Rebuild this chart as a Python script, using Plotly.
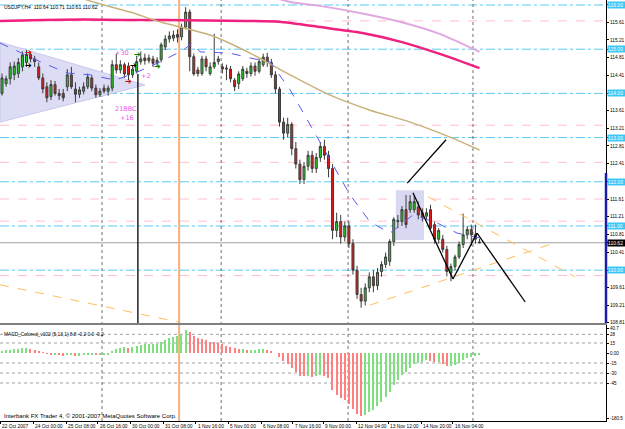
import plotly.graph_objects as go

# ---------------- data ----------------
bars = list(range(118))
opens = [114.00,114.22,114.33,114.42,114.45,114.60,114.70,114.88,114.78,114.60,
         114.35,114.15,113.93,114.20,114.00,114.00,114.15,114.42,114.10,113.98,
         114.05,114.15,114.35,114.12,113.97,114.12,114.05,114.12,114.65,114.53,
         114.65,114.62,114.42,114.50,114.72,114.80,114.74,114.78,114.68,114.76,
         115.05,115.23,115.25,115.33,115.28,115.50,115.84,114.83,114.53,114.45,
         114.78,114.45,114.60,114.72,114.60,114.55,114.55,114.30,114.22,114.33,
         114.50,114.45,114.62,114.50,114.65,114.82,114.70,114.42,114.10,113.35,
         113.10,113.30,112.75,112.40,112.05,112.35,112.60,112.30,112.55,112.80,
         112.60,112.30,110.90,111.10,110.75,111.00,110.60,110.00,109.45,109.30,
         109.60,109.85,109.65,109.97,110.13,110.20,110.65,111.10,111.10,111.37,
         111.37,111.37,111.43,111.30,111.22,111.37,111.03,110.70,110.70,110.47,
         109.93,110.08,110.30,110.58,110.80,110.92,110.80,110.64]
highs = [114.45,114.40,114.70,114.72,114.80,114.95,114.98,114.95,114.85,114.70,
         114.45,114.25,114.30,114.28,114.10,114.10,114.55,114.60,114.25,114.15,
         114.25,114.45,114.40,114.20,114.12,114.20,114.18,114.75,114.90,114.75,
         114.70,114.70,114.62,114.85,114.95,114.90,114.88,114.85,114.82,115.15,
         115.32,115.40,115.42,115.45,115.58,115.95,115.90,114.90,114.60,114.85,
         114.85,114.70,115.35,114.85,114.68,114.65,114.62,114.35,114.50,114.62,
         114.58,114.70,114.70,114.80,114.90,114.92,114.78,114.50,114.15,113.45,
         113.45,113.35,112.90,112.50,112.45,112.70,112.70,112.65,112.90,112.95,
         112.70,112.40,111.30,111.25,111.10,111.10,110.70,110.10,109.60,109.70,
         109.95,110.00,110.05,110.20,110.40,110.70,111.20,111.25,111.45,111.70,
         111.70,111.68,111.55,111.40,111.40,111.48,111.10,110.95,110.80,110.55,
         110.15,110.35,110.65,111.28,111.00,111.03,111.03,110.71]
lows = [113.95,114.15,114.20,114.30,114.35,114.50,114.60,114.70,114.60,114.30,
        114.00,113.80,113.85,113.95,113.85,113.82,114.05,114.10,113.80,113.90,
        113.98,114.10,114.05,113.90,113.92,114.00,113.95,114.05,114.45,114.45,
        114.35,114.30,114.35,114.45,114.65,114.65,114.68,114.60,114.60,114.70,
        114.98,115.15,115.18,115.15,115.20,115.45,114.50,114.40,114.38,114.40,
        114.50,114.40,114.55,114.65,114.45,114.30,114.25,114.05,114.10,114.28,
        114.35,114.38,114.40,114.45,114.60,114.60,114.35,114.00,113.25,112.95,
        113.00,112.60,112.30,111.95,111.95,112.25,112.20,112.20,112.45,112.50,
        112.10,110.70,110.75,110.60,110.65,110.50,109.90,109.35,109.15,109.20,
        109.50,109.50,109.55,109.85,110.05,110.10,110.55,110.95,111.00,110.95,
        111.30,111.30,111.15,111.10,111.15,110.90,110.60,110.60,110.40,109.86,
        109.75,110.00,110.25,110.50,110.70,110.55,110.60,110.61]
closes = [114.35,114.33,114.60,114.62,114.70,114.87,114.88,114.78,114.72,114.35,
          114.10,113.90,114.20,114.00,113.95,113.90,114.42,114.15,113.98,114.08,
          114.15,114.37,114.12,113.97,114.05,114.05,114.12,114.65,114.53,114.65,
          114.44,114.42,114.55,114.72,114.78,114.74,114.80,114.68,114.75,115.10,
          115.23,115.30,115.32,115.27,115.50,115.84,114.83,114.44,114.45,114.78,
          114.60,114.60,114.70,114.78,114.55,114.57,114.33,114.15,114.44,114.55,
          114.45,114.62,114.50,114.72,114.82,114.70,114.42,114.10,113.35,113.10,
          113.30,112.75,112.40,112.05,112.35,112.60,112.30,112.55,112.80,112.60,
          112.30,110.90,111.10,110.75,111.00,110.60,110.00,109.45,109.30,109.60,
          109.85,109.65,109.95,110.13,110.30,110.65,111.15,111.12,111.37,111.03,
          111.55,111.55,111.25,111.20,111.30,110.95,110.70,110.90,110.47,109.97,
          110.08,110.30,110.58,110.80,110.92,110.80,110.70,110.62]

macd_hist = [3,4,5,6,6,7,7,6,5,3,
             1,-1,-2,-2,-3,-4,-3,-3,-4,-4,
             -3,-2,-2,-3,-3,-2,-2,3,6,8,
             9,8,9,11,12,13,13,13,13,16,
             19,22,24,25,28,34,31,26,22,21,
             19,17,16,15,13,11,9,7,6,6,
             5,5,5,6,6,5,3,0,-6,-12,
             -16,-22,-28,-34,-35,-34,-36,-35,-33,-34,
             -38,-55,-63,-68,-71,-76,-84,-91,-95,-93,
             -89,-85,-79,-73,-66,-58,-48,-40,-33,-28,
             -22,-17,-15,-13,-11,-12,-14,-14,-16,-20,
             -20,-18,-15,-11,-8,-6,-4,-2]

ma_magenta_bars = [-0.5, 10, 20, 30, 40, 50, 60, 68, 78, 88, 98, 108, 117]
ma_magenta_vals = [115.64, 115.66, 115.67, 115.66, 115.66, 115.65, 115.64, 115.62, 115.50, 115.37, 115.16, 114.87, 114.57]
ma_plum_bars = [60, 70.6, 77.9, 87.7, 97.5, 107.4, 117]
ma_plum_vals = [116.35, 116.07, 115.98, 115.82, 115.62, 115.34, 114.94]
ma_tan_bars = [18, 22.3, 31.4, 38.7, 51, 60.8, 70.6, 80.4, 90.2, 100, 109.8, 117]
ma_tan_vals = [116.20, 116.07, 115.84, 115.62, 115.32, 114.91, 114.42, 113.96, 113.62, 113.35, 113.01, 112.72]
ma_blue_bars = [-0.5, 10, 16, 21.6, 27.7, 32.6, 38.7, 44.4, 46.6, 48.5, 55.9, 60.8, 65.7, 70.6, 75.5, 80.4, 85.3, 90.2, 95.1, 100.7, 106.6, 111.5, 117]
ma_blue_vals = [115.14, 114.69, 114.46, 114.42, 114.30, 114.46, 114.71, 114.98, 115.14, 114.94, 114.91, 114.80, 114.71, 114.08, 113.29, 112.49, 111.70, 111.09, 110.84, 111.25, 111.07, 110.84, 110.73]

# drawn objects (bar index, price)
triangle_bars = [-0.5, -0.5, 35.0]
triangle_prices = [115.16, 113.35, 114.19]
box_bars = [96.5, 103.4]
box_prices = [110.68, 111.81]
zigzag_bars = [100.7, 110.5, 116.4, 128.2]
zigzag_prices = [111.75, 109.80, 110.84, 109.28]
upline_bars = [99.3, 108.8]
upline_prices = [111.97, 112.95]
orange_line_bars = [[104.4, 140.4], [90.2, 135.5], [-0.5, 43.1]]
orange_line_prices = [[111.66, 109.85], [109.21, 110.62], [109.67, 108.83]]
week_separators = [24.5, 53.7, 84.8, 115.4]
orange_vline = 43.4
black_vline_bar = 33.3
black_vline_top = 114.44

price_tick_vals = [108.81, 109.21, 109.61, 110.41, 110.81, 111.21, 111.61, 112.41,
                   112.81, 113.21, 113.61, 114.41, 114.81, 115.21, 115.61]
round_levels = [110.0, 111.0, 112.0, 113.0, 114.0, 115.0, 116.0]
pink_levels = [115.64, 113.28, 112.44, 111.61, 111.11, 109.88]
last_price = 110.62
macd_tick_vals = [37.5, 28, 15, 0, -15, -30, -45, -97.5]
macd_tick_text = ['40.7', '28', '15', '0.00', '-15', '-30', '-45', '-180.5']
macd_levels = [28, 15, -15, -30, -45]

date_pos = [-0.49, 7.6, 15.7, 23.5, 31.4, 39.5, 47.5, 55.4, 63.5, 71.3, 78.7, 86.8, 94.6, 102.7, 110.5]
date_labels = ['22 Oct 2007', '24 Oct 00:00', '25 Oct 08:00', '26 Oct 16:00', '30 Oct 00:00',
               '31 Oct 08:00', '1 Nov 16:00', '5 Nov 00:00', '6 Nov 08:00', '7 Nov 16:00',
               '9 Nov 00:00', '12 Nov 04:00', '13 Nov 12:00', '14 Nov 20:00', '16 Nov 04:00']

# text markers on chart: (bar, price, text, color, size)
chart_marks = [
    (6.6, 114.92, '➔', '#e00000', 8),
    (6.6, 114.62, '➔', '#000000', 8),
    (33.3, 114.87, '➔', '#008000', 8),
    (38.0, 114.60, '➔', '#008000', 8),
    (32.3, 114.64, '➔', '#000000', 8),
    (31.0, 114.28, '➔', '#e00000', 8),
    (29.4, 114.92, '+30', '#ee55ee', 6.5),
    (35.2, 114.40, '+2', '#ee55ee', 6.5),
    (30.3, 113.64, '21BBC', '#ee55ee', 6.5),
    (30.6, 113.44, '+16', '#ee55ee', 6.5),
]

FONT = 'Liberation Sans'

# ---------------- figure ----------------
fig = go.Figure()

fig.add_trace(go.Candlestick(
    x=bars, open=opens, high=highs, low=lows, close=closes,
    increasing=dict(line=dict(color='#3c3c3c', width=1), fillcolor='#22d422'),
    decreasing=dict(line=dict(color='#3c3c3c', width=1), fillcolor='#e01a1a'),
    whiskerwidth=0, xaxis='x', yaxis='y', showlegend=False, hoverinfo='skip'))

fig.add_trace(go.Scatter(x=ma_plum_bars, y=ma_plum_vals, mode='lines',
                         line=dict(color='#e0a8e0', width=2, shape='spline', smoothing=0.6),
                         xaxis='x', yaxis='y', showlegend=False, hoverinfo='skip'))
fig.add_trace(go.Scatter(x=ma_magenta_bars, y=ma_magenta_vals, mode='lines',
                         line=dict(color='#f0207f', width=2.5, shape='spline', smoothing=0.6),
                         xaxis='x', yaxis='y', showlegend=False, hoverinfo='skip'))
fig.add_trace(go.Scatter(x=ma_tan_bars, y=ma_tan_vals, mode='lines',
                         line=dict(color='#c8b27a', width=1.5, shape='spline', smoothing=0.6),
                         xaxis='x', yaxis='y', showlegend=False, hoverinfo='skip'))
fig.add_trace(go.Scatter(x=ma_blue_bars, y=ma_blue_vals, mode='lines',
                         line=dict(color='#5a5af0', width=1, dash='dash'),
                         xaxis='x', yaxis='y', showlegend=False, hoverinfo='skip'))

# MACD histogram, coloured by direction
macd_colors = []
for k, v in enumerate(macd_hist):
    prev = macd_hist[k - 1] if k > 0 else v
    macd_colors.append('#7fe07f' if v >= prev else '#ff8080')
fig.add_trace(go.Bar(x=bars, y=macd_hist, marker=dict(color=macd_colors, line=dict(width=0)),
                     width=0.3, xaxis='x2', yaxis='y2', showlegend=False, hoverinfo='skip'))

shapes = []
for lv in round_levels:
    shapes.append(dict(type='line', xref='paper', x0=0, x1=1, yref='y', y0=lv, y1=lv,
                       line=dict(color='#5cc8ef', width=1, dash='dashdot'), layer='below'))
for lv in pink_levels:
    shapes.append(dict(type='line', xref='paper', x0=0, x1=1, yref='y', y0=lv, y1=lv,
                       line=dict(color='#ffc0cc', width=1, dash='dash'), layer='below'))
shapes.append(dict(type='line', xref='paper', x0=0, x1=1, yref='y', y0=last_price, y1=last_price,
                   line=dict(color='#a0a0a0', width=1), layer='below'))
for lv in macd_levels:
    shapes.append(dict(type='line', xref='paper', x0=0, x1=1, yref='y2', y0=lv, y1=lv,
                       line=dict(color='#a0a0a0', width=1, dash='dot'), layer='below'))
tri_path = 'M {},{} L {},{} L {},{} Z'.format(triangle_bars[0], triangle_prices[0],
                                              triangle_bars[1], triangle_prices[1],
                                              triangle_bars[2], triangle_prices[2])
shapes.append(dict(type='path', xref='x', yref='y', path=tri_path,
                   fillcolor='#dcdcf4', line=dict(color='#c8c8ee', width=1), layer='below'))
shapes.append(dict(type='rect', xref='x', yref='y', x0=box_bars[0], x1=box_bars[1],
                   y0=box_prices[0], y1=box_prices[1], fillcolor='#d8d8f2',
                   line=dict(width=0), layer='below'))
for wb in week_separators:
    shapes.append(dict(type='line', xref='x', x0=wb, x1=wb, yref='paper', y0=0, y1=1,
                       line=dict(color='#707070', width=1, dash='dot'), layer='below'))
shapes.append(dict(type='line', xref='x', x0=orange_vline, x1=orange_vline, yref='paper', y0=0, y1=1,
                   line=dict(color='#f6b07c', width=2), layer='below'))
shapes.append(dict(type='line', xref='x', x0=black_vline_bar, x1=black_vline_bar, yref='y',
                   y0=black_vline_top, y1=108.805, line=dict(color='#000000', width=1.3)))
for bx, py in zip(orange_line_bars, orange_line_prices):
    shapes.append(dict(type='line', xref='x', yref='y', x0=bx[0], x1=bx[1], y0=py[0], y1=py[1],
                       line=dict(color='#ffbe5a', width=1, dash='dash')))
for k in range(len(zigzag_bars) - 1):
    shapes.append(dict(type='line', xref='x', yref='y', x0=zigzag_bars[k], x1=zigzag_bars[k + 1],
                       y0=zigzag_prices[k], y1=zigzag_prices[k + 1],
                       line=dict(color='#000000', width=1.3)))
shapes.append(dict(type='line', xref='x', yref='y', x0=upline_bars[0], x1=upline_bars[1],
                   y0=upline_prices[0], y1=upline_prices[1], line=dict(color='#000000', width=1.3)))
shapes.append(dict(type='line', xref='paper', x0=1, x1=1, yref='y', y0=112.2, y1=108.805,
                   line=dict(color='#1c1ca8', width=2.5)))

annotations = []
for lv in round_levels:
    annotations.append(dict(x=1, xref='paper', xanchor='left', xshift=1, y=lv, yref='y',
                            text='{:.2f}'.format(lv), showarrow=False, bgcolor='#3cc8f4',
                            font=dict(family=FONT, size=5, color='white'), borderpad=0,
                            width=18, height=6, align='left'))
annotations.append(dict(x=1, xref='paper', xanchor='left', xshift=1, y=last_price, yref='y',
                        text='{:.2f}'.format(last_price), showarrow=False, bgcolor='#000000',
                        font=dict(family=FONT, size=5, color='white'), borderpad=0,
                        width=18, height=6, align='left'))
for pos, lab in zip(date_pos, date_labels):
    annotations.append(dict(x=pos, xref='x', xanchor='left', y=0, yref='paper', yanchor='top',
                            yshift=-1, text=lab, showarrow=False,
                            font=dict(family=FONT, size=4.8, color='black')))
for bx, py, txt, col, sz in chart_marks:
    annotations.append(dict(x=bx, xref='x', y=py, yref='y', text=txt, showarrow=False,
                            font=dict(family='DejaVu Sans', size=sz, color=col)))
annotations.append(dict(x=0.004, xref='paper', xanchor='left', y=1, yref='paper', yanchor='top',
                        yshift=-2, text='USDJPY,H4  110.64 110.71 110.61 110.62', showarrow=False,
                        font=dict(family=FONT, size=5, color='black')))
annotations.append(dict(x=0.004, xref='paper', xanchor='left', y=0.215, yref='paper', yanchor='top',
                        text='MACD_Colored_v102 (5,13,1) 8.8 -0.2 0.0 -0.2', showarrow=False,
                        font=dict(family=FONT, size=4.8, color='black')))
annotations.append(dict(x=0.003, xref='paper', xanchor='left', y=0, yref='paper', yanchor='bottom',
                        yshift=0, text='Interbank FX Trader 4, © 2001-2007 MetaQuotes Software Corp.',
                        showarrow=False, font=dict(family=FONT, size=6, color='black')))

fig.update_layout(
    width=625, height=429, margin=dict(l=0, r=19, t=0, b=8),
    paper_bgcolor='white', plot_bgcolor='white', showlegend=False,
    bargap=0, shapes=shapes, annotations=annotations,
    xaxis=dict(domain=[0, 1], range=[-0.49, 148.0], anchor='y', showgrid=False, zeroline=False,
               showticklabels=False, ticks='', showline=True, linecolor='#808080', linewidth=2,
               rangeslider=dict(visible=False)),
    yaxis=dict(domain=[0.2328, 1], range=[108.805, 116.113], side='right', anchor='x',
               showgrid=False, zeroline=False, tickvals=price_tick_vals + round_levels + [last_price],
               ticktext=['{:.2f}'.format(v) for v in price_tick_vals] + [''] * (len(round_levels) + 1),
               ticks='outside', ticklen=2, tickcolor='black', showline=True, linecolor='black',
               linewidth=1, tickfont=dict(family=FONT, size=4.8, color='black')),
    xaxis2=dict(domain=[0, 1], matches='x', anchor='y2', showgrid=False, zeroline=False,
                showticklabels=False, tickvals=date_pos, ticks='outside', ticklen=2,
                tickcolor='black', showline=True, linecolor='black', linewidth=1),
    yaxis2=dict(domain=[0, 0.228], range=[-102, 42], side='right', anchor='x2',
                showgrid=False, zeroline=False, tickvals=macd_tick_vals, ticktext=macd_tick_text,
                ticks='outside', ticklen=2, tickcolor='black', showline=True, linecolor='black',
                linewidth=1, tickfont=dict(family=FONT, size=4.5, color='black')),
)

fig.write_html('out.html')
